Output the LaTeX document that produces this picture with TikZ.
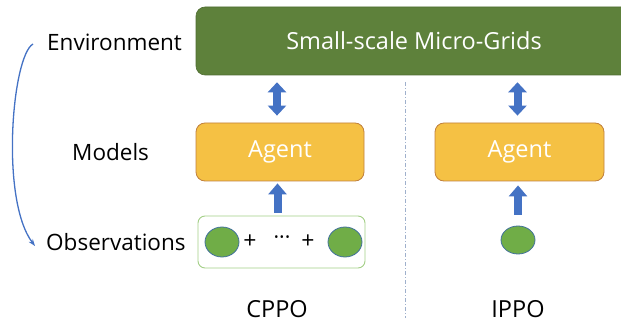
\documentclass[tikz,border=0pt]{standalone}
\usepackage{fontspec}
\setmainfont{Open Sans}
\usetikzlibrary{arrows.meta,shapes.geometric}
\definecolor{envgreen}{HTML}{5E813B}
\definecolor{envborder}{HTML}{4F6D32}
\definecolor{agentfill}{HTML}{F5C144}
\definecolor{agentborder}{HTML}{C0803C}
\definecolor{obsborder}{HTML}{A3CF86}
\definecolor{ellfill}{HTML}{70AD47}
\definecolor{ellborder}{HTML}{41719C}
\definecolor{arrowblue}{HTML}{4472C4}
\definecolor{dashcol}{HTML}{9FB0CC}
\tikzset{
  lbl/.style={font=\fontsize{22.5}{26}\selectfont, text=black, inner sep=0pt},
  envbox/.style={draw=envborder, fill=envgreen, rounded corners=9pt, line width=0.6pt,
     minimum width=436pt, minimum height=68pt, text=white, font=\fontsize{23.5}{26}\selectfont},
  agentbox/.style={draw=agentborder, fill=agentfill, rounded corners=9pt, line width=0.8pt,
     minimum width=168pt, minimum height=58pt, text=white, font=\fontsize{23.5}{26}\selectfont},
  obsbox/.style={draw=obsborder, fill=white, rounded corners=7pt, line width=0.9pt,
     minimum width=167pt, minimum height=52pt},
  obsell/.style={ellipse, draw=ellborder, fill=ellfill, line width=0.8pt, minimum width=34pt, minimum height=30pt, inner sep=0pt},
  sym/.style={font=\fontsize{23}{26}\selectfont, inner sep=0pt},
  blockboth/.style={line width=8pt, draw=arrowblue, {Triangle[width=18pt,length=10pt]}-{Triangle[width=18pt,length=10pt]}},
  blockup/.style={line width=8pt, draw=arrowblue, -{Triangle[width=18pt,length=11pt]}},
}
\begin{document}
\begin{tikzpicture}[x=1pt,y=-1pt]
\useasboundingbox (0,0) rectangle (621,323);
\clip (0,0) rectangle (621,323);
% vertical dash-dot separator
\coordinate (sepT) at (405,82);
\coordinate (sepB) at (405,318);
\draw[dashcol, line width=0.7pt, dash pattern=on 4pt off 2pt on 1pt off 2pt] (sepT) -- (sepB);
% environment
\node[envbox] (env) at (414,41) {Small-scale Micro-Grids};
% agents
\node[agentbox] (a1) at (280,152) {Agent};
\node[agentbox, minimum width=169pt] (a2) at (519.5,152) {Agent};
% observations
\node[obsbox] (obs) at (281.5,242) {};
\node[obsell] (e1) at (222,242) {};
\node[obsell] (e2) at (345,242) {};
\node[sym] (p1) at (250,242) {+};
\node[sym, font=\fontsize{21}{24}\selectfont] (dots) at (282,240) {···};
\node[sym] (p2) at (308,242) {+};
\node[obsell, minimum height=28pt] (e3) at (518,240) {};
% row labels
\node[lbl, anchor=west] (lenv) at (47,42) {Environment};
\node[lbl, anchor=west] (lmod) at (72,152) {Models};
\node[lbl, anchor=west] (lobs) at (46,242) {Observations};
% method labels
\node[lbl, font=\fontsize{23.5}{26}\selectfont] (cppo) at (277,309) {CPPO};
\node[lbl, font=\fontsize{23.5}{26}\selectfont] (ippo) at (518,309) {IPPO};
% block arrows
\draw[blockboth, shorten <=7pt, shorten >=7pt] ([xshift=-3pt]env.south -| a1.north) -- ([xshift=-3pt]a1.north);
\draw[blockboth, shorten <=7pt, shorten >=7pt] ([xshift=-2pt]env.south -| a2.north) -- ([xshift=-2pt]a2.north);
\draw[blockup, shorten <=3pt, shorten >=2pt] ([xshift=-4pt]obs.north) -- ([xshift=-4pt]obs.north |- a1.south);
\draw[blockup, shorten <=11pt, shorten >=4pt] (e3.north) -- (e3.north |- a2.south);
% curved loop arrow
\coordinate (cs) at ([xshift=-14pt,yshift=-2pt]lenv.west);
\coordinate (ce) at ([xshift=-11pt,yshift=-4pt]lobs.west);
\draw[arrowblue, line width=1.3pt, -{Stealth[length=7pt,width=5pt]}] (cs) .. controls (12,56) and (0,200) .. (ce);
\end{tikzpicture}
\end{document}
